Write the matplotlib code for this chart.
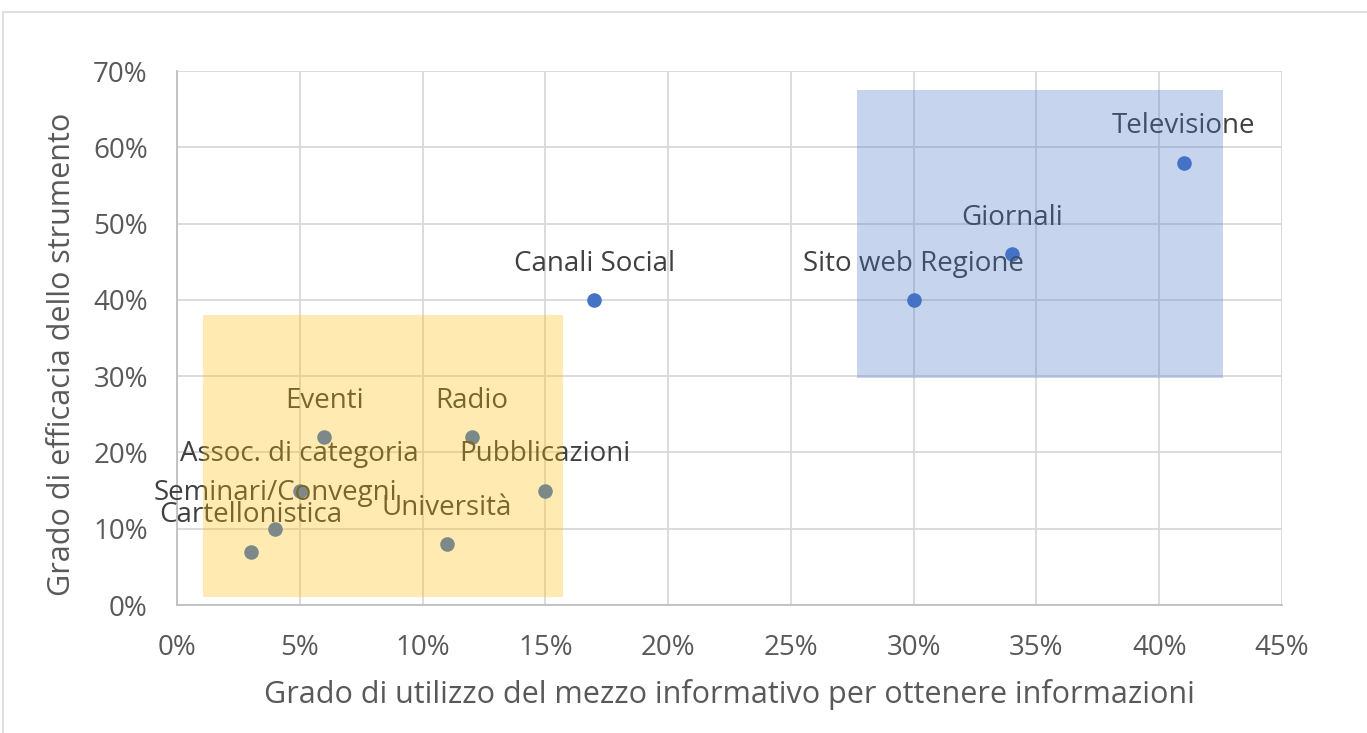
import matplotlib.pyplot as plt
from matplotlib.patches import Rectangle
from matplotlib.ticker import PercentFormatter

plt.rcParams['font.family'] = ['Open Sans', 'DejaVu Sans']

# Data (fractions)
labels = ['Cartellonistica', 'Seminari/Convegni', 'Assoc. di categoria', 'Eventi',
          'Università', 'Radio', 'Pubblicazioni', 'Canali Social',
          'Sito web Regione', 'Giornali', 'Televisione']
utilizzo = [0.03, 0.04, 0.05, 0.06, 0.11, 0.12, 0.15, 0.17, 0.30, 0.34, 0.41]
efficacia = [0.07, 0.10, 0.15, 0.22, 0.08, 0.22, 0.15, 0.40, 0.40, 0.46, 0.58]

# Highlight boxes: (x0, y0, x1, y1)
box_low = (0.0105, 0.0105, 0.157, 0.38)
box_high = (0.277, 0.297, 0.426, 0.675)

fig = plt.figure(figsize=(13.67, 7.33), dpi=100)
ax = fig.add_axes([177 / 1367, 1 - 605 / 733, (1282 - 177) / 1367, (605 - 71) / 733])

ax.scatter(utilizzo, efficacia, s=110, color='#4472C4', zorder=3, linewidths=0)
for lab, x, y in zip(labels, utilizzo, efficacia):
    ax.annotate(lab, (x, y), xytext=(0, 26), textcoords='offset points',
                ha='center', va='center', fontsize=20, color='#404040', zorder=4)

# translucent boxes drawn over points and labels
for (x0, y0, x1, y1), c in [(box_low, '#FFC000'), (box_high, '#4472C4')]:
    ax.add_patch(Rectangle((x0, y0), x1 - x0, y1 - y0, facecolor=c, alpha=0.3,
                           edgecolor='none', zorder=5))

ax.set_xlim(0, 0.45)
ax.set_ylim(0, 0.70)
ax.set_xticks([i * 0.05 for i in range(10)])
ax.set_yticks([i * 0.10 for i in range(8)])
ax.xaxis.set_major_formatter(PercentFormatter(1.0, decimals=0))
ax.yaxis.set_major_formatter(PercentFormatter(1.0, decimals=0))
ax.grid(True, color='#D9D9D9', linewidth=1.3, zorder=0)
ax.set_axisbelow(True)
ax.tick_params(length=0, labelsize=20, labelcolor='#595959')
ax.tick_params(axis='x', pad=21)
ax.tick_params(axis='y', pad=21)
for s in ['top', 'right']:
    ax.spines[s].set_visible(False)
for s in ['left', 'bottom']:
    ax.spines[s].set_color('#BFBFBF')
    ax.spines[s].set_linewidth(1.3)

ax.set_xlabel('Grado di utilizzo del mezzo informativo per ottenere informazioni',
              fontsize=22, color='#595959', va='center')
ax.set_ylabel('Grado di efficacia dello strumento', fontsize=22, color='#595959',
              va='center')
ax.xaxis.set_label_coords(0.5, (605 - 694) / 534)
ax.yaxis.set_label_coords((62 - 177) / 1105, (605 - 354) / 534)

# Chart area border (cut at right and bottom)
fig.add_artist(Rectangle((3 / 1367, -0.1), 1.1, 1 - 12 / 733 + 0.1,
                         transform=fig.transFigure, facecolor='none',
                         edgecolor='#D9D9D9', linewidth=1.2))

fig.savefig('out.png', dpi=100)
